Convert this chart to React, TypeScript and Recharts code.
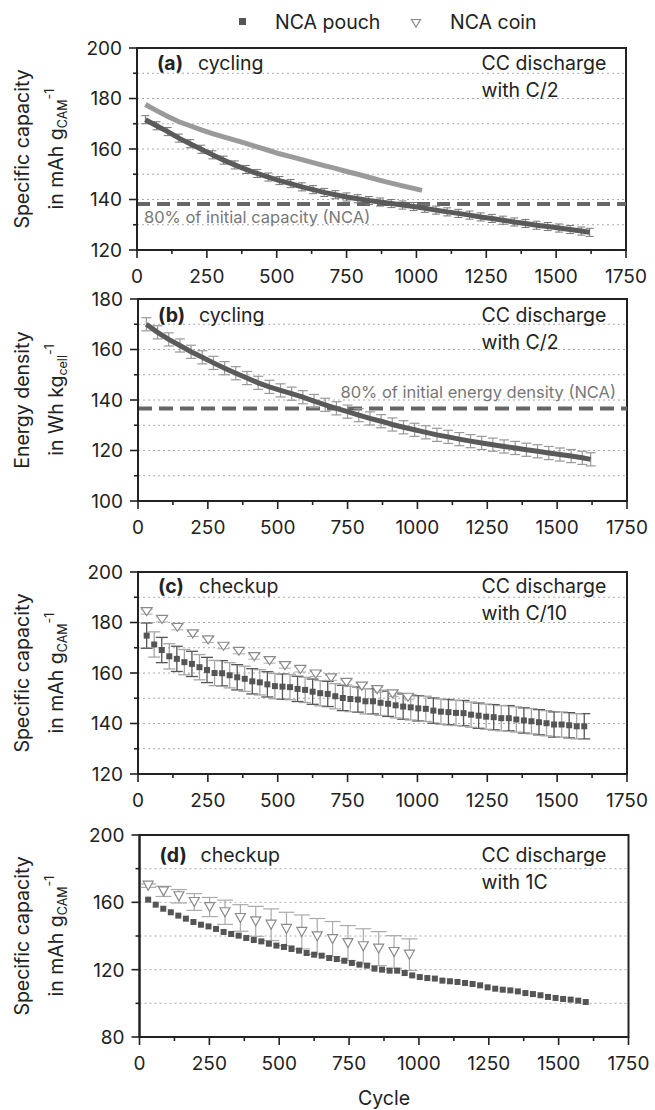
import React from 'react'
import {
  ComposedChart,
  Line,
  Scatter,
  XAxis,
  YAxis,
  CartesianGrid,
  ErrorBar,
  ReferenceLine,
  ReferenceArea,
} from 'recharts'

const FONT = 'Inter, "Liberation Sans", Arial, sans-serif'
const INK = '#222'

// x positions (cycle numbers)
const cyclesDense = [
  30, 70, 110, 150, 190, 230, 270, 310, 350, 390, 430, 470, 510, 550, 590, 630, 670, 710, 750, 790,
  830, 870, 910, 950, 990, 1030, 1070, 1110, 1150, 1190, 1230, 1270, 1310, 1350, 1390, 1430, 1470,
  1510, 1550, 1590, 1620,
]
const cyclesCoinCycling = [
  30, 70, 110, 150, 190, 230, 270, 310, 350, 390, 430, 470, 510, 550, 590, 630, 670, 710, 750, 790,
  830, 870, 910, 950, 990, 1020,
]
const checkupPouchCycles = [
  31, 58, 85, 112, 139, 166, 193, 220, 247, 274, 301, 328, 355, 382, 409, 436, 463, 490, 517, 544,
  571, 598, 625, 652, 679, 706, 733, 760, 787, 814, 841, 868, 895, 922, 949, 976, 1003, 1030, 1057,
  1084, 1111, 1138, 1165, 1192, 1219, 1246, 1273, 1300, 1327, 1354, 1381, 1408, 1435, 1462, 1489,
  1516, 1543, 1570, 1597,
]
const checkupCoinCycles = [31, 86, 141, 196, 251, 306, 361, 416, 471, 526, 581, 636, 691, 746, 801, 856, 911, 966]

// (a) specific capacity, cycling
const pouchCapCycling = [
  171.6, 169.2, 166.9, 164.3, 162.1, 159.9, 157.7, 155.6, 153.7, 151.9, 150.3, 148.9, 147.5, 146.3,
  145.0, 143.9, 142.8, 141.9, 141.0, 140.3, 139.6, 139.0, 138.4, 137.8, 137.2, 136.5, 135.8, 135.1,
  134.5, 133.8, 133.1, 132.5, 131.8, 131.1, 130.5, 129.8, 129.3, 128.7, 128.1, 127.5, 127.0,
]
const coinCapCycling = [
  177.6, 175.2, 172.9, 170.8, 169.2, 167.6, 166.1, 164.8, 163.5, 162.2, 160.8, 159.5, 158.1, 157.0,
  155.8, 154.6, 153.4, 152.3, 151.1, 150.0, 148.8, 147.6, 146.5, 145.4, 144.4, 143.6,
]
const pouchCapCyclingErr = 1.6
const capLimit = 138.2

// (b) energy density, cycling
const pouchEnergyCycling = [
  170.0, 166.8, 164.0, 161.6, 159.1, 156.9, 154.7, 152.6, 150.6, 148.7, 146.8, 145.2, 143.8, 142.5,
  141.1, 139.6, 138.1, 136.7, 135.4, 134.0, 132.7, 131.6, 130.3, 129.2, 128.2, 127.2, 126.2, 125.4,
  124.5, 123.7, 123.0, 122.3, 121.6, 121.0, 120.3, 119.7, 119.0, 118.4, 117.8, 117.1, 116.5,
]
const pouchEnergyErr = 2.6
const energyLimit = 136.6

// (c) checkup C/10
const pouchCapC10 = [
  174.8, 171.3, 169.1, 166.6, 165.6, 164.3, 163.6, 162.3, 161.2, 160.0, 159.9, 159.1, 158.3, 157.7,
  156.7, 156.3, 155.5, 154.8, 154.6, 154.4, 153.7, 153.3, 152.6, 152.0, 151.7, 150.8, 150.1, 149.7,
  149.5, 148.8, 148.8, 148.2, 147.8, 147.2, 146.7, 146.4, 146.0, 145.8, 145.1, 144.7, 144.5, 144.2,
  144.1, 143.5, 143.1, 142.7, 142.5, 142.1, 142.1, 141.6, 141.2, 140.9, 140.5, 140.1, 139.6, 139.6,
  139.3, 138.9, 138.9,
]
const pouchC10Err = 5.0
const coinCapC10 = [
  184.3, 181.2, 178.1, 175.5, 173.1, 170.6, 168.6, 166.5, 164.9, 162.9, 161.4, 159.6, 158.1, 156.3,
  154.8, 153.4, 151.7, 150.4,
]
const coinC10Err = 1.0

// (d) checkup 1C
const pouchCap1C = [
  161.6, 158.6, 156.2, 154.1, 152.1, 150.3, 148.3, 146.7, 145.7, 144.2, 142.4, 141.2, 140.2, 138.8,
  137.6, 136.8, 135.4, 134.3, 133.5, 132.3, 131.3, 129.9, 128.9, 128.3, 126.9, 126.3, 125.3, 124.0,
  123.0, 122.4, 120.6, 120.0, 119.4, 119.4, 118.0, 116.6, 115.6, 115.0, 114.7, 113.5, 113.1, 112.7,
  112.1, 111.5, 110.7, 109.5, 108.7, 108.1, 107.7, 107.1, 106.1, 105.5, 104.8, 103.8, 103.2, 102.6,
  102.2, 101.6, 100.8,
]
const coinCap1C = [
  169.9, 166.5, 163.6, 160.2, 157.2, 154.1, 150.7, 148.7, 146.7, 144.2, 142.4, 139.8, 138.2, 135.8,
  133.9, 132.5, 130.5, 128.9,
]
const coinCap1CErr = [1.0, 3.0, 4.0, 5.0, 5.7, 7.2, 7.9, 8.9, 9.4, 9.9, 10.1, 10.6, 10.4, 10.4, 10.4, 10.1, 9.7, 9.4]

// axis ticks
const xTicks = [0, 125, 250, 375, 500, 625, 750, 875, 1000, 1125, 1250, 1375, 1500, 1625, 1750]
const xLabels = [0, 250, 500, 750, 1000, 1250, 1500, 1750]
const yTicksA = [120, 130, 140, 150, 160, 170, 180, 190, 200]
const yLabelsA = [120, 140, 160, 180, 200]
const yTicksB = [100, 110, 120, 130, 140, 150, 160, 170, 180]
const yLabelsB = [100, 120, 140, 160, 180]
const yTicksD = [80, 100, 120, 140, 160, 180, 200]
const yLabelsD = [80, 120, 160, 200]

type Pt = { x: number; y: number; err?: number }
const toPoints = (xs: number[], ys: number[], err?: number | number[]): Pt[] =>
  ys.map((y, i) => ({ x: xs[i], y, err: Array.isArray(err) ? err[i] : err }))

const dataA_pouch = toPoints(cyclesDense, pouchCapCycling, pouchCapCyclingErr)
const dataA_coin = toPoints(cyclesCoinCycling, coinCapCycling)
const dataB_pouch = toPoints(cyclesDense, pouchEnergyCycling, pouchEnergyErr)
const dataC_pouch = toPoints(checkupPouchCycles, pouchCapC10, pouchC10Err)
const dataC_coin = toPoints(checkupCoinCycles, coinCapC10, coinC10Err)
const dataD_pouch = toPoints(checkupPouchCycles, pouchCap1C)
const dataD_coin = toPoints(checkupCoinCycles, coinCap1C, coinCap1CErr)

const W = 655
const PLOT_W = 489
const PLOT_H = 202
const TOP_PAD = 20

const square = (size: number) => (p: any) => (
  <rect x={p.cx - size / 2} y={p.cy - size / 2} width={size} height={size} fill="#555" />
)
const triangle = (w: number, h: number) => (p: any) => (
  <path
    d={`M${p.cx - w / 2},${p.cy - h / 2} L${p.cx + w / 2},${p.cy - h / 2} L${p.cx},${p.cy + h / 2} Z`}
    fill="#fff"
    stroke="#8a8a8a"
    strokeWidth={1.2}
  />
)
// error bars only, the markers are drawn by a later series so they sit on top
const noMark = () => <g />

function YTick(props: any) {
  const { x, y, payload, labels } = props
  const major = labels.includes(payload.value)
  return (
    <g>
      <line x1={x} x2={x - (major ? 8 : 4)} y1={y} y2={y} stroke={INK} strokeWidth={1.6} />
      {major && (
        <text x={x - 15} y={y} dy="0.36em" textAnchor="end" fontSize={19} fill={INK} fontFamily={FONT}>
          {payload.value}
        </text>
      )}
    </g>
  )
}

function XTick(props: any) {
  const { x, y, payload } = props
  const major = xLabels.includes(payload.value)
  return (
    <g>
      <line x1={x} x2={x} y1={y} y2={y + (major ? 8 : 4)} stroke={INK} strokeWidth={1.6} />
      {major && (
        <text x={x} y={y + 33} textAnchor="middle" fontSize={19} fill={INK} fontFamily={FONT}>
          {payload.value}
        </text>
      )}
    </g>
  )
}

interface PanelProps {
  plotTop: number
  plotLeft: number
  domain: [number, number]
  yTicks: number[]
  yLabels: number[]
  letter: string
  mode: string
  rate: string
  title: string
  unit: string
  unitSub: string
  textOffset: number
  children: React.ReactNode
}

function Panel({
  plotTop, plotLeft, domain, yTicks, yLabels, letter, mode, rate, title, unit, unitSub, textOffset, children,
}: PanelProps) {
  const H = TOP_PAD + PLOT_H + 45
  const base = TOP_PAD + textOffset
  const cy = TOP_PAD + PLOT_H / 2
  return (
    <div style={{ position: 'absolute', left: 0, top: plotTop - TOP_PAD, width: W, height: H }}>
      <ComposedChart
        width={W}
        height={H}
        margin={{ top: TOP_PAD, right: W - plotLeft - PLOT_W, bottom: 5, left: 0 }}
      >
        <CartesianGrid vertical={false} stroke="#aaa" strokeDasharray="2 3" />
        <XAxis
          type="number"
          dataKey="x"
          domain={[0, 1750]}
          ticks={xTicks}
          interval={0}
          height={40}
          tickSize={0}
          tickMargin={0}
          allowDataOverflow
          axisLine={{ stroke: INK, strokeWidth: 2 }}
          tick={(p: any) => <XTick {...p} />}
        />
        <YAxis
          type="number"
          dataKey="y"
          domain={domain}
          ticks={yTicks}
          interval={0}
          width={plotLeft}
          tickSize={0}
          tickMargin={0}
          allowDataOverflow
          axisLine={{ stroke: INK, strokeWidth: 2 }}
          tick={(p: any) => <YTick {...p} labels={yLabels} />}
        />
        <ReferenceArea x1={0} x2={1750} y1={domain[0]} y2={domain[1]} fill="none" stroke={INK} strokeWidth={2} />
        {children}
      </ComposedChart>
      <svg
        width={W}
        height={H}
        style={{ position: 'absolute', left: 0, top: 0, pointerEvents: 'none' }}
        fontFamily={FONT}
        fill={INK}
      >
        <text x={plotLeft + 20} y={base} fontSize={19.5} fontWeight="bold">{letter}</text>
        <text x={plotLeft + 61} y={base} fontSize={19.5}>{mode}</text>
        <text x={481.5} y={base} fontSize={19.5}>CC discharge</text>
        <text x={481.5} y={base + 27} fontSize={19.5}>{rate}</text>
        <text x={29} y={cy} fontSize={19.5} textAnchor="middle" transform={`rotate(-90 29 ${cy})`}>
          {title}
        </text>
        <text x={63} y={cy} fontSize={19.5} textAnchor="middle" transform={`rotate(-90 63 ${cy})`}>
          {unit}
          <tspan fontSize={12.5} dy={4}>{unitSub}</tspan>
          <tspan fontSize={12.5} dy={-13}>-1</tspan>
        </text>
      </svg>
    </div>
  )
}

export default function App() {
  const evenC = dataC_pouch.filter((_, i) => i % 2 === 0)
  const oddC = dataC_pouch.filter((_, i) => i % 2 === 1)
  return (
    <div style={{ position: 'absolute', left: 0, top: 0, width: W, height: 1110, background: '#fff' }}>
      <svg width={W} height={40} style={{ position: 'absolute', left: 0, top: 0 }} fontFamily={FONT}>
        <rect x={239} y={18} width={7} height={7} fill="#555" />
        <text x={275} y={28.5} fontSize={19.5} fill={INK}>NCA pouch</text>
        <path d="M411.5,19.5 L420.5,19.5 L416,27 Z" fill="#fff" stroke="#8a8a8a" strokeWidth={1.2} />
        <text x={450} y={28.5} fontSize={19.5} fill={INK}>NCA coin</text>
      </svg>

      <Panel
        plotTop={48} plotLeft={137} domain={[120, 200]} yTicks={yTicksA} yLabels={yLabelsA}
        letter="(a)" mode="cycling" rate="with C/2" title="Specific capacity" unit="in mAh g" unitSub="CAM"
        textOffset={22}
      >
        <ReferenceLine
          y={capLimit}
          stroke="#666"
          strokeWidth={4}
          strokeDasharray="13 7"
          label={{ value: '80% of initial capacity (NCA)', position: 'insideTopLeft', offset: 7, fill: '#777', fontSize: 16.5, fontFamily: FONT }}
        />
        <Line data={dataA_coin} dataKey="y" stroke="#9a9a9a" strokeWidth={5} dot={false} isAnimationActive={false} />
        <Line data={dataA_pouch} dataKey="y" stroke="#5a5a5a" strokeWidth={5} dot={false} isAnimationActive={false}>
          <ErrorBar dataKey="err" direction="y" width={4} stroke="#777" strokeWidth={1} />
        </Line>
      </Panel>

      <Panel
        plotTop={299} plotLeft={138} domain={[100, 180]} yTicks={yTicksB} yLabels={yLabelsB}
        letter="(b)" mode="cycling" rate="with C/2" title="Energy density" unit="in Wh kg" unitSub="cell"
        textOffset={22.5}
      >
        <ReferenceLine
          y={energyLimit}
          stroke="#666"
          strokeWidth={4}
          strokeDasharray="14 7"
          label={{ value: '80% of initial energy density (NCA)', position: 'insideBottomRight', offset: 11, fill: '#777', fontSize: 16.5, fontFamily: FONT }}
        />
        <Line data={dataB_pouch} dataKey="y" stroke="#5a5a5a" strokeWidth={5} dot={false} isAnimationActive={false}>
          <ErrorBar dataKey="err" direction="y" width={5} stroke="#999" strokeWidth={1.2} />
        </Line>
      </Panel>

      <Panel
        plotTop={572} plotLeft={138} domain={[120, 200]} yTicks={yTicksA} yLabels={yLabelsA}
        letter="(c)" mode="checkup" rate="with C/10" title="Specific capacity" unit="in mAh g" unitSub="CAM"
        textOffset={21}
      >
        <Scatter data={evenC} dataKey="y" shape={noMark} isAnimationActive={false}>
          <ErrorBar dataKey="err" direction="y" width={6} stroke="#555" strokeWidth={1.3} />
        </Scatter>
        <Scatter data={oddC} dataKey="y" shape={noMark} isAnimationActive={false}>
          <ErrorBar dataKey="err" direction="y" width={6} stroke="#a5a5a5" strokeWidth={1.3} />
        </Scatter>
        <Scatter data={dataC_pouch} dataKey="y" shape={square(6)} isAnimationActive={false} />
        <Scatter data={dataC_coin} dataKey="y" shape={noMark} isAnimationActive={false}>
          <ErrorBar dataKey="err" direction="y" width={6} stroke="#aaa" strokeWidth={1} />
        </Scatter>
        <Scatter data={dataC_coin} dataKey="y" shape={triangle(11, 8)} isAnimationActive={false} />
      </Panel>

      <Panel
        plotTop={835} plotLeft={139.5} domain={[80, 200]} yTicks={yTicksD} yLabels={yLabelsD}
        letter="(d)" mode="checkup" rate="with 1C" title="Specific capacity" unit="in mAh g" unitSub="CAM"
        textOffset={27}
      >
        <Scatter data={dataD_coin} dataKey="y" shape={noMark} isAnimationActive={false}>
          <ErrorBar dataKey="err" direction="y" width={8} stroke="#aaa" strokeWidth={1.2} />
        </Scatter>
        <Scatter data={dataD_coin} dataKey="y" shape={triangle(10, 9)} isAnimationActive={false} />
        <Scatter data={dataD_pouch} dataKey="y" shape={square(6)} isAnimationActive={false} />
      </Panel>

      <svg width={W} height={30} style={{ position: 'absolute', left: 0, top: 1080 }} fontFamily={FONT}>
        <text x={384} y={25} fontSize={19.5} textAnchor="middle" fill={INK}>Cycle</text>
      </svg>
    </div>
  )
}
